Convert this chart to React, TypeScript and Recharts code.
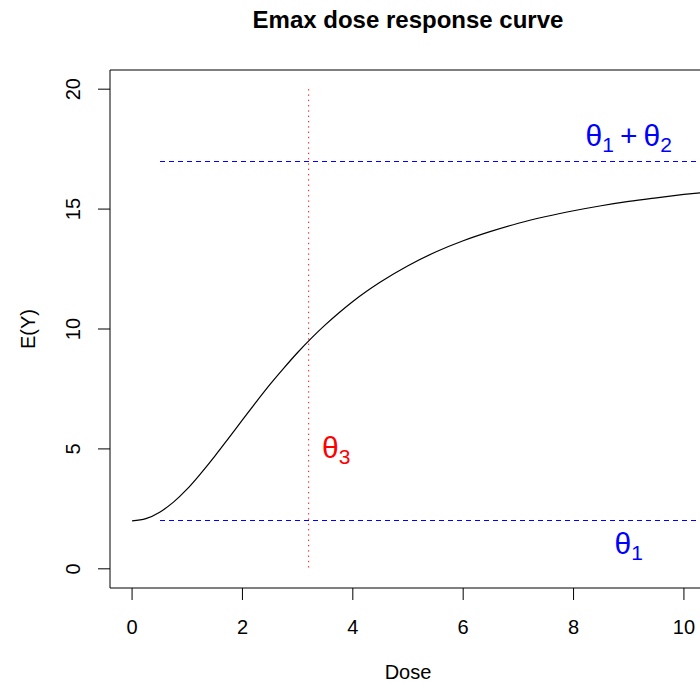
import React from 'react';
import { LineChart, Line, XAxis, YAxis, ReferenceLine, ReferenceDot } from 'recharts';

const doses = [0, 0.25, 0.5, 0.75, 1, 1.25, 1.5, 1.75, 2, 2.25, 2.5, 2.75, 3, 3.25, 3.5, 3.75, 4, 4.5, 5, 5.5, 6, 6.5, 7, 7.5, 8, 8.5, 9, 9.5, 10, 10.5];
const responses = [2.0, 2.09, 2.36, 2.78, 3.33, 3.99, 4.7, 5.45, 6.21, 6.96, 7.69, 8.37, 9.02, 9.62, 10.17, 10.68, 11.15, 11.96, 12.64, 13.21, 13.68, 14.07, 14.41, 14.69, 14.93, 15.14, 15.32, 15.47, 15.61, 15.73];
const xTicks = [0, 2, 4, 6, 8, 10];
const yTicks = [0, 5, 10, 15, 20];
const theta1 = 2;
const theta1plus2 = 17;
const theta3 = 3.2;
const hLineStart = 0.5;
const hLineEnd = 10.4;
const vLineTop = 20;
const vLineBottom = 0;
const labelTheta12 = { x: 9, y: 18 };
const labelTheta1 = { x: 9, y: 1 };
const labelTheta3 = { x: 3.7, y: 5 };

const data = doses.map((d, i) => ({ dose: d, ey: responses[i] }));

const FONT = '"Liberation Sans", Arial, Helvetica, sans-serif';

const ThetaLabel = (props: any) => {
  const { cx, cy, color, sub1, sub2 } = props;
  return (
    <text x={cx} y={cy + 9} textAnchor="middle" fill={color} fontSize={30} fontFamily={FONT}>
      <tspan>θ</tspan>
      <tspan fontSize={21} dy={6}>{sub1}</tspan>
      {sub2 ? <tspan dy={-6}>{'\u2009+\u2009θ'}</tspan> : null}
      {sub2 ? <tspan fontSize={21} dy={6}>{sub2}</tspan> : null}
    </text>
  );
};

const YTick = (props: any) => {
  const { x, y, payload } = props;
  return (
    <text x={x} y={y} transform={`rotate(-90, ${x}, ${y})`} textAnchor="middle" fontSize={20} fill="#000" fontFamily={FONT}>
      {payload.value}
    </text>
  );
};

export default function App() {
  return (
    <div style={{ position: 'absolute', left: 0, top: 0, width: 700, height: 684, overflow: 'hidden', background: '#fff' }}>
      <LineChart width={760} height={684} data={data} margin={{ top: 0, right: 0, bottom: 0, left: 0 }} style={{ fontFamily: FONT }}>
        <XAxis
          dataKey="dose"
          type="number"
          domain={[-0.4, 10.4]}
          allowDataOverflow
          ticks={xTicks}
          interval={0}
          height={96}
          tickSize={12}
          tickMargin={20}
          axisLine={{ stroke: '#000', strokeWidth: 1 }}
          tickLine={{ stroke: '#000', strokeWidth: 1 }}
          tick={{ fontSize: 20, fill: '#000', fontFamily: FONT }}
          label={{ value: 'Dose', position: 'insideBottom', offset: 5, fontSize: 20, fill: '#000', fontFamily: FONT }}
        />
        <XAxis
          xAxisId="top"
          orientation="top"
          type="number"
          domain={[-0.4, 10.4]}
          height={70}
          tick={false}
          tickLine={false}
          axisLine={{ stroke: '#000', strokeWidth: 1 }}
          label={{
            content: (p: any) => {
              const vb = p.viewBox || { x: 110, width: 596 };
              return (
                <text x={vb.x + vb.width / 2} y={28} textAnchor="middle" fontSize={24} fontWeight="bold" fill="#000" fontFamily={FONT}>
                  Emax dose response curve
                </text>
              );
            },
          }}
        />
        <YAxis
          type="number"
          domain={[-0.8, 20.8]}
          allowDataOverflow
          ticks={yTicks}
          interval={0}
          width={110}
          tickSize={12}
          tickMargin={18}
          axisLine={{ stroke: '#000', strokeWidth: 1 }}
          tickLine={{ stroke: '#000', strokeWidth: 1 }}
          tick={<YTick />}
          label={{
            content: (p: any) => {
              const vb = p.viewBox || { y: 70, height: 518 };
              const cy = vb.y + vb.height / 2;
              return (
                <text x={35} y={cy} transform={`rotate(-90, 35, ${cy})`} textAnchor="middle" fontSize={20} fill="#000" fontFamily={FONT}>
                  E(Y)
                </text>
              );
            },
          }}
        />
        <YAxis
          yAxisId="right"
          orientation="right"
          type="number"
          domain={[-0.8, 20.8]}
          width={54}
          tick={false}
          tickLine={false}
          axisLine={{ stroke: '#000', strokeWidth: 1 }}
        />
        <ReferenceLine
          segment={[{ x: hLineStart, y: theta1plus2 }, { x: hLineEnd, y: theta1plus2 }]}
          stroke="#0000ff"
          strokeDasharray="5 4"
          strokeWidth={1}
          shapeRendering="crispEdges"
          ifOverflow="visible"
        />
        <ReferenceLine
          segment={[{ x: hLineStart, y: theta1 }, { x: hLineEnd, y: theta1 }]}
          stroke="#0000ff"
          strokeDasharray="5 4"
          strokeWidth={1}
          shapeRendering="crispEdges"
          ifOverflow="visible"
        />
        <ReferenceLine
          segment={[{ x: theta3, y: vLineTop }, { x: theta3, y: vLineBottom }]}
          stroke="#ff0000"
          strokeDasharray="1.3 4"
          strokeWidth={1}
          ifOverflow="visible"
        />
        <Line type="monotone" dataKey="ey" stroke="#000" strokeWidth={1.2} dot={false} isAnimationActive={false} />
        <ReferenceDot x={labelTheta12.x} y={labelTheta12.y} r={0} ifOverflow="visible"
          shape={(p: any) => <ThetaLabel cx={p.cx} cy={p.cy} color="#0000ff" sub1="1" sub2="2" />} />
        <ReferenceDot x={labelTheta1.x} y={labelTheta1.y} r={0} ifOverflow="visible"
          shape={(p: any) => <ThetaLabel cx={p.cx} cy={p.cy} color="#0000ff" sub1="1" />} />
        <ReferenceDot x={labelTheta3.x} y={labelTheta3.y} r={0} ifOverflow="visible"
          shape={(p: any) => <ThetaLabel cx={p.cx} cy={p.cy} color="#ff0000" sub1="3" />} />
      </LineChart>
    </div>
  );
}
